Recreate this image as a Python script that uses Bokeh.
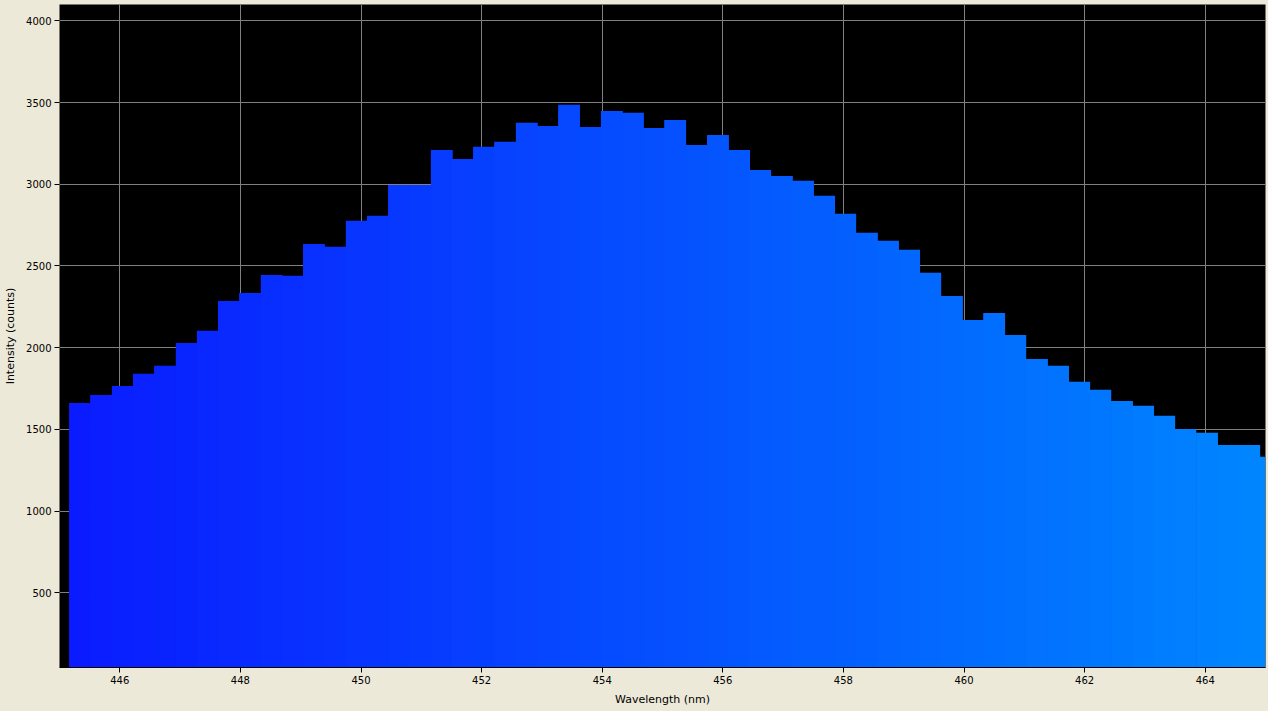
from bokeh.plotting import figure
from bokeh.models import ColumnDataSource, Range1d, FixedTicker, GlobalInlineStyleSheet
from bokeh.embed import file_html
from bokeh.resources import INLINE

# Spectrum bins: centre wavelength (nm) and intensity (counts)
wavelength = [
    445.34, 445.69, 446.05, 446.40, 446.75, 447.11, 447.46, 447.81, 448.16, 448.52,
    448.87, 449.22, 449.57, 449.93, 450.28, 450.63, 450.98, 451.34, 451.69, 452.04,
    452.39, 452.75, 453.10, 453.45, 453.80, 454.16, 454.51, 454.86, 455.21, 455.57,
    455.92, 456.27, 456.62, 456.98, 457.33, 457.68, 458.03, 458.39, 458.74, 459.09,
    459.44, 459.80, 460.15, 460.50, 460.85, 461.21, 461.56, 461.91, 462.26, 462.62,
    462.97, 463.32, 463.67, 464.03, 464.38, 464.73, 465.08,
]
intensity = [
    1662, 1711, 1766, 1840, 1889, 2029, 2103, 2286, 2335, 2445,
    2440, 2635, 2617, 2776, 2807, 2996, 2996, 3210, 3155, 3229,
    3260, 3376, 3357, 3486, 3351, 3449, 3437, 3345, 3394, 3241,
    3302, 3210, 3088, 3051, 3021, 2929, 2819, 2703, 2654, 2599,
    2458, 2317, 2170, 2213, 2078, 1931, 1889, 1791, 1742, 1674,
    1644, 1583, 1503, 1479, 1405, 1405, 1332,
]
bin_width = 0.3525

x_ticks = [446, 448, 450, 452, 454, 456, 458, 460, 462, 464]
y_ticks = [500, 1000, 1500, 2000, 2500, 3000, 3500, 4000]

# colour each bin along the wavelength, deep blue -> sky blue
x0, x1 = 445.0, 465.0
c_lo, c_hi = (10, 26, 255), (0, 134, 255)
colors = []
for w in wavelength:
    t = min(max((w - x0) / (x1 - x0), 0), 1)
    r, g, b = (round(a + (c - a) * t) for a, c in zip(c_lo, c_hi))
    colors.append("#%02x%02x%02x" % (r, g, b))

source = ColumnDataSource(data=dict(x=wavelength, top=intensity, color=colors))

BEIGE = "#ECE9D8"
page_css = GlobalInlineStyleSheet(css=f"html, body {{ margin: 0; padding: 0; background: {BEIGE}; overflow: hidden; }}")

p = figure(width=1268, height=711, x_range=Range1d(x0, x1), y_range=Range1d(43, 4100),
           output_backend="svg", toolbar_location=None,
           min_border_left=59, min_border_right=3, min_border_top=4, min_border_bottom=44)
p.stylesheets = [page_css]

# bins are drawn a hair wider so neighbours overlap and no seams show
p.vbar(x="x", top="top", bottom=0, width=bin_width * 1.03, source=source,
       fill_color="color", line_color=None)

p.background_fill_color = "black"
p.border_fill_color = BEIGE
p.outline_line_color = None

p.xaxis.ticker = FixedTicker(ticks=x_ticks)
p.yaxis.ticker = FixedTicker(ticks=y_ticks)
p.xaxis.axis_label = "Wavelength (nm)"
p.yaxis.axis_label = "Intensity (counts)"

for ax in (p.xaxis, p.yaxis):
    ax.axis_line_color = "black"
    ax.major_tick_line_color = "black"
    ax.major_tick_in = 0
    ax.major_tick_out = 5
    ax.minor_tick_line_color = None
    ax.major_label_text_font = "DejaVu Sans"
    ax.major_label_text_font_size = "10px"
    ax.major_label_text_color = "black"
    ax.axis_label_text_font = "DejaVu Sans"
    ax.axis_label_text_font_size = "11px"
    ax.axis_label_text_font_style = "normal"
    ax.axis_label_text_color = "black"
    ax.major_label_standoff = 3
p.yaxis.axis_line_color = None
p.xaxis.axis_label_standoff = 6
p.yaxis.axis_label_standoff = 6

p.grid.grid_line_color = "#808080"
p.grid.grid_line_width = 1

open("out.html", "w").write(file_html(p, INLINE))
